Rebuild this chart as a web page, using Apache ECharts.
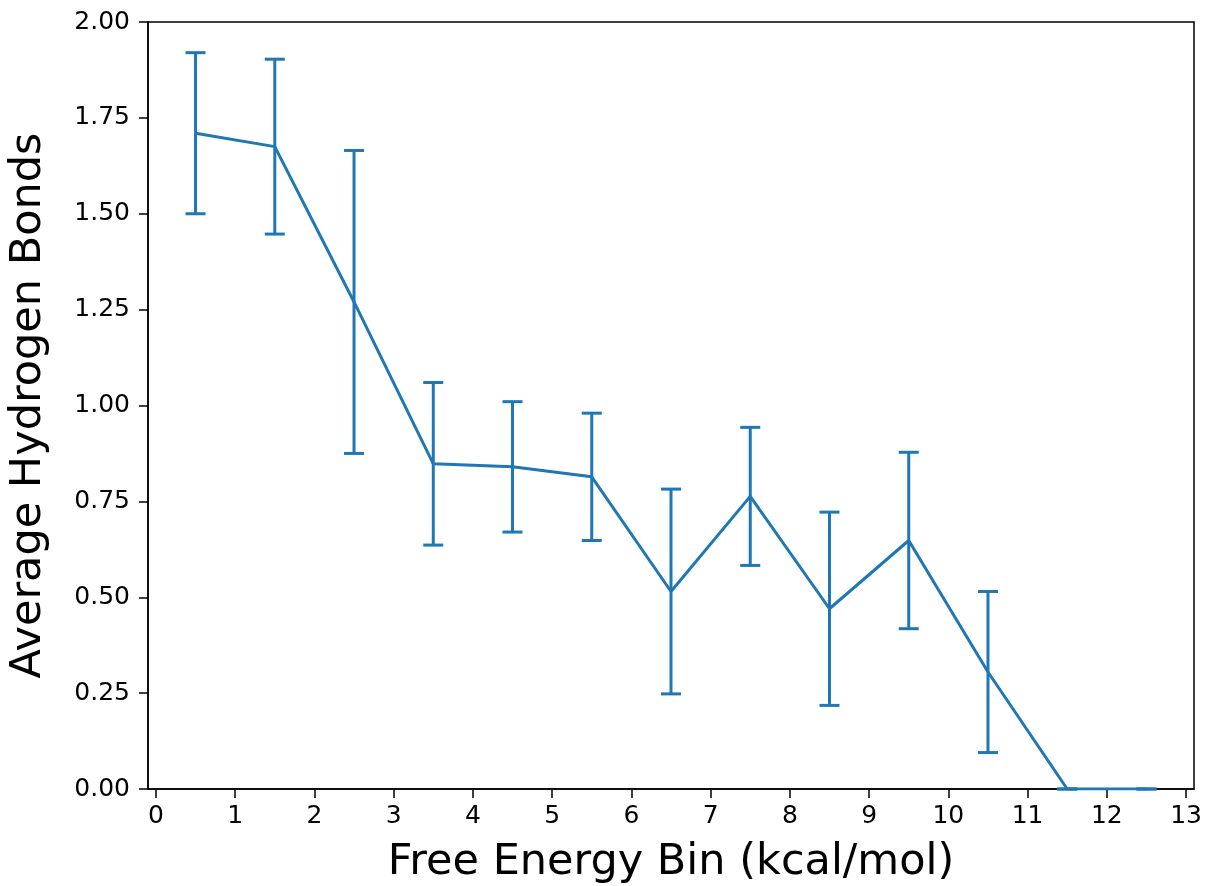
<!DOCTYPE html>
<html>
<head>
<meta charset="utf-8">
<script src="https://cdn.jsdelivr.net/npm/echarts@6/dist/echarts.min.js"></script>
<style>
html,body{margin:0;padding:0;background:#fff;}
#chart{width:1205px;height:886px;}
</style>
</head>
<body>
<div id="chart"></div>
<script>
// Data
const binCenters = [0.5, 1.5, 2.5, 3.5, 4.5, 5.5, 6.5, 7.5, 8.5, 9.5, 10.5, 11.5, 12.5];
const avgHBonds  = [1.71, 1.675, 1.27, 0.848, 0.840, 0.814, 0.515, 0.763, 0.470, 0.648, 0.305, 0.0, 0.0];
const errHBonds  = [0.21, 0.228, 0.395, 0.212, 0.170, 0.166, 0.267, 0.180, 0.252, 0.230, 0.210, 0.0, 0.0];
const xTickValues = [0, 1, 2, 3, 4, 5, 6, 7, 8, 9, 10, 11, 12, 13];
const xAxisTitle = 'Free Energy Bin (kcal/mol)';
const yAxisTitle = 'Average Hydrogen Bonds';

const COLOR = '#1f77b4';
const FONT = 'DejaVu Sans';

const lineData = binCenters.map((x, i) => [x, avgHBonds[i]]);
const errData = binCenters.map((x, i) => [x, avgHBonds[i], errHBonds[i]]);

const chart = echarts.init(document.getElementById('chart'), null, {renderer: 'canvas'});
chart.setOption({
  animation: false,
  backgroundColor: '#ffffff',
  grid: {
    left: 148, right: 11, top: 22, bottom: 97,
    containLabel: false,
    outerBoundsMode: 'none',
    show: true, borderColor: '#000', borderWidth: 1.5, backgroundColor: 'transparent'
  },
  xAxis: {
    type: 'value',
    min: -0.1, max: 13.1,
    name: xAxisTitle,
    nameLocation: 'middle',
    nameGap: 52,
    nameTextStyle: {fontFamily: FONT, fontSize: 43, color: '#000'},
    axisLine: {show: true, onZero: false, lineStyle: {color: '#000', width: 1.5}},
    axisTick: {show: true, length: 9, inside: false, customValues: xTickValues, lineStyle: {color: '#000', width: 1.5}},
    axisLabel: {show: true, customValues: xTickValues, margin: 15, fontFamily: FONT, fontSize: 25, color: '#000',
      formatter: v => String(v)},
    splitLine: {show: false}
  },
  yAxis: {
    type: 'value',
    min: 0, max: 2, interval: 0.25,
    name: yAxisTitle,
    nameLocation: 'middle',
    nameGap: 98,
    nameTextStyle: {fontFamily: FONT, fontSize: 43, color: '#000'},
    axisLine: {show: true, onZero: false, lineStyle: {color: '#000', width: 1.5}},
    axisTick: {show: true, length: 9, inside: false, lineStyle: {color: '#000', width: 1.5}},
    axisLabel: {show: true, margin: 18, fontFamily: FONT, fontSize: 25, color: '#000',
      formatter: v => v.toFixed(2)},
    splitLine: {show: false}
  },
  series: [
    {
      type: 'line',
      data: lineData,
      showSymbol: false,
      symbol: 'none',
      lineStyle: {color: COLOR, width: 3},
      itemStyle: {color: COLOR},
      z: 3
    },
    {
      type: 'custom',
      data: errData,
      encode: {x: 0, y: 1},
      z: 4,
      renderItem: function (params, api) {
        const x = api.value(0), y = api.value(1), e = api.value(2);
        const top = api.coord([x, y + e]);
        const bot = api.coord([x, y - e]);
        const hw = 10;
        const style = {stroke: COLOR, lineWidth: 3, fill: null};
        return {
          type: 'group',
          children: [
            {type: 'line', shape: {x1: top[0], y1: top[1], x2: bot[0], y2: bot[1]}, style: style},
            {type: 'line', shape: {x1: top[0] - hw, y1: top[1], x2: top[0] + hw, y2: top[1]}, style: style},
            {type: 'line', shape: {x1: bot[0] - hw, y1: bot[1], x2: bot[0] + hw, y2: bot[1]}, style: style}
          ]
        };
      }
    }
  ]
});
</script>
</body>
</html>
